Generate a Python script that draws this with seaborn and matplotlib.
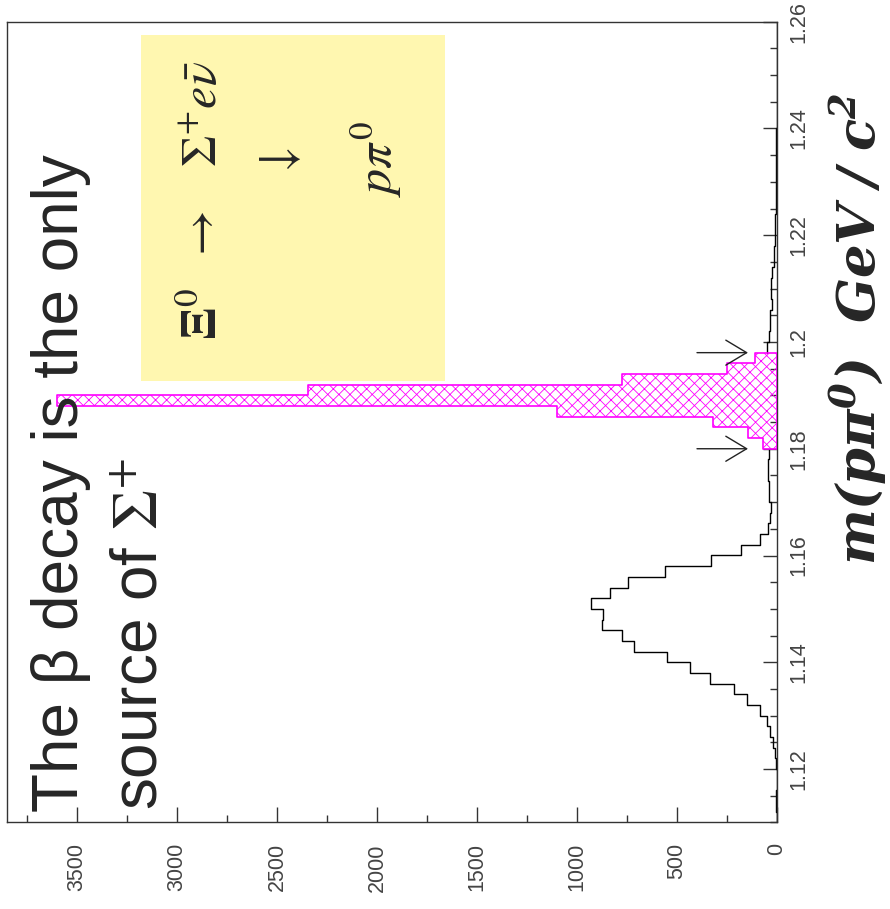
import numpy as np
import pandas as pd
import matplotlib
matplotlib.use("Agg")
import matplotlib.pyplot as plt
import seaborn as sns
from matplotlib.patches import Rectangle
from matplotlib.ticker import MultipleLocator, FuncFormatter

# ---------------- data ----------------
mass_lo = 1.110          # GeV/c^2, lower edge of first bin
bin_width = 0.002        # GeV/c^2
counts = [0, 5, 5, 1, 2, 3, 10, 22, 35, 52,            # 1.110 - 1.128
          85, 152, 215, 336, 436, 548, 714, 774, 874, 868,   # 1.130 - 1.148
          932, 835, 743, 562, 332, 182, 86, 46, 35, 28,      # 1.150 - 1.168
          38, 38, 47, 47, 40, 70, 145, 320, 1102, 3600,      # 1.170 - 1.188
          2345, 777, 252, 110, 48, 40, 33, 35, 23, 28,       # 1.190 - 1.208
          28, 23, 13, 13, 10, 10, 8, 5, 5, 4,                # 1.210 - 1.228
          4, 3, 3, 5, 3, 0, 0, 0, 0, 0,                      # 1.230 - 1.248
          0, 0, 0, 0, 0]                                     # 1.250 - 1.258
sel_lo, sel_hi = 1.180, 1.198          # selected Sigma+ window (hatched)
arrow_mass = [sel_lo, sel_hi]           # cut markers
arrow_tail, arrow_tip = 400, 145        # counts

count_ticks = [0, 500, 1000, 1500, 2000, 2500, 3000, 3500]
mass_ticks = [1.12, 1.14, 1.16, 1.18, 1.20, 1.22, 1.24, 1.26]

title_lines = ["The \u03b2 decay is the only", r"source of $\Sigma^{+}$"]
decay_line1 = r"$\mathbf{\Xi}^{0}\ \ \rightarrow\ \ \ \Sigma^{+}e\bar{\nu}$"
decay_line2 = r"$\downarrow$"
decay_line3 = r"$p\pi^{0}$"
axis_label = r"$\mathbfit{m(p\pi^{0})\ \ GeV\ /\ c^{2}}$"

SEL_COLOR = "#FF00FF"
BOX_COLOR = "#FFF7B0"
FRAME = "#333333"

# ---------------- build table ----------------
edges = [mass_lo + bin_width * i for i in range(len(counts) + 1)]
centers = [e + bin_width / 2 for e in edges[:-1]]
df = pd.DataFrame({"mass": centers, "n": counts})
in_sel = (df["mass"] > sel_lo) & (df["mass"] < sel_hi)
sel = df[in_sel]
low = df[df["mass"] < sel_lo]
high = df[df["mass"] > sel_hi]
sel_edges = [e for e in edges if sel_lo - 1e-9 < e < sel_hi + 1e-9]
low_edges = [e for e in edges if e < sel_lo + 1e-9]
high_edges = [e for e in edges if e > sel_hi - 1e-9]

# ---------------- style ----------------
sns.set_style("white")
plt.rcParams["font.family"] = ["Liberation Sans", "DejaVu Sans"]
plt.rcParams["mathtext.fontset"] = "stix"
plt.rcParams["hatch.color"] = SEL_COLOR
plt.rcParams["hatch.linewidth"] = 0.6

W_PX, H_PX = 890, 909
fig = plt.figure(figsize=(W_PX / 100, H_PX / 100), dpi=100)

def fx(x):
    return x / W_PX

def fy(y):
    return 1 - y / H_PX

ax_l, ax_r, ax_t, ax_b = 7, 777, 21.7, 822.4
ax = fig.add_axes([fx(ax_l), fy(ax_b), fx(ax_r - ax_l), (ax_b - ax_t) / H_PX])

# histogram outline outside the selected window
for part, part_edges in ((low, low_edges), (high, high_edges)):
    sns.histplot(data=part, y="mass", weights="n", bins=part_edges,
                 element="step", fill=False, color="black", linewidth=1.0,
                 ax=ax)

# hatched selected window
n_before = len(ax.collections)
sns.histplot(data=sel, y="mass", weights="n", bins=sel_edges, element="step",
             fill=True, color=SEL_COLOR, ax=ax)
for coll in ax.collections[n_before:]:
    coll.set_alpha(None)
    coll.set_facecolor("none")
    coll.set_edgecolor(SEL_COLOR)
    coll.set_linewidth(1.2)
    coll.set_hatch("xxx")
    coll.set_zorder(3)
    if hasattr(coll, "set_hatchcolor"):
        coll.set_hatchcolor(SEL_COLOR)

# cut arrows
for m in arrow_mass:
    ax.annotate("", xy=(arrow_tip, m), xytext=(arrow_tail, m),
                arrowprops=dict(arrowstyle="->,head_length=1.5,head_width=0.9",
                                color="#222222", lw=1.0, shrinkA=0, shrinkB=0,
                                mutation_scale=10))

ax.set_xlim(3850, 0)
ax.set_ylim(1.11, 1.26)
ax.set_xlabel("")
ax.set_ylabel("")

ax.set_xticks(count_ticks)
ax.xaxis.set_minor_locator(MultipleLocator(250))
ax.set_yticks(mass_ticks)
ax.yaxis.set_minor_locator(MultipleLocator(0.005))
ax.yaxis.set_major_formatter(FuncFormatter(lambda v, p: f"{v:g}"))

ax.tick_params(axis="x", which="both", direction="in", bottom=True, top=False,
               labelrotation=90, pad=15, labelsize=15.5, color=FRAME,
               labelcolor="#444444", width=1)
ax.tick_params(axis="x", which="major", length=11)
ax.tick_params(axis="x", which="minor", length=5)
ax.tick_params(axis="y", which="both", direction="in", left=False, right=True,
               labelleft=False, labelright=True, labelrotation=90, pad=8,
               labelsize=15.5, color=FRAME, labelcolor="#444444", width=1)
ax.tick_params(axis="y", which="major", length=10)
ax.tick_params(axis="y", which="minor", length=5)
for tk in ax.yaxis.get_major_ticks():
    tk.label2.set_va("center")

for s in ax.spines.values():
    s.set_visible(True)
    s.set_color(FRAME)
    s.set_linewidth(1.0)

# yellow decay box
fig.add_artist(Rectangle((fx(141), fy(381)), fx(445 - 141), (381 - 35) / H_PX,
                         transform=fig.transFigure, facecolor=BOX_COLOR,
                         edgecolor="none", zorder=1))

txt_kw = dict(rotation=90, rotation_mode="anchor", ha="left", va="baseline")
fig.text(fx(217), fy(340), decay_line1, fontsize=36, zorder=3, **txt_kw)
fig.text(fx(280), fy(163), decay_line2, fontsize=36, rotation=90,
         ha="center", va="center", zorder=3)
fig.text(fx(392), fy(197), decay_line3, fontsize=36, zorder=3, **txt_kw)

# title
fig.text(fx(78), fy(812), title_lines[0], fontsize=46,
         family=["Liberation Sans", "DejaVu Sans"], zorder=3, **txt_kw)
fig.text(fx(157), fy(810), title_lines[1], fontsize=46,
         family=["Liberation Sans", "DejaVu Sans"], zorder=3, **txt_kw)

# axis label (rotated, right side)
fig.text(fx(876), fy(565), axis_label, fontsize=38, zorder=3,
         math_fontfamily="dejavuserif", **txt_kw)

fig.savefig("out.png", dpi=100, facecolor="white")
